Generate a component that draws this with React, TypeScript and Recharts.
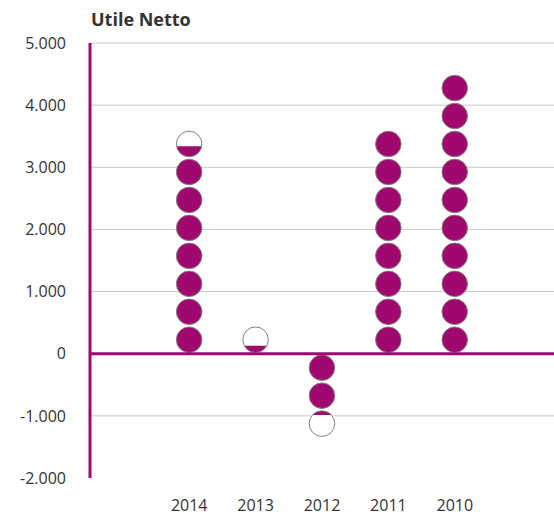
import React from "react";
import { BarChart, Bar, XAxis, YAxis, CartesianGrid, ReferenceLine } from "recharts";

const years = ["2014", "2013", "2012", "2011", "2010"];
const utile = [3335, 120, -975, 3600, 4500];
const yTicks = [-2000, -1000, 0, 1000, 2000, 3000, 4000, 5000];
const gridValues = [-1000, 1000, 2000, 3000, 4000, 5000];
const UNIT = 450; // value represented by one coin

const PURPLE = "#A0086F";
const FONT = "'Open Sans', sans-serif";

const data = years.map((year, i) => ({ year, utile: utile[i] }));

const fmt = (v: number) => {
  const s = Math.abs(v).toString().replace(/\B(?=(\d{3})+(?!\d))/g, ".");
  return (v < 0 ? "-" : "") + s;
};

// draws the bar as a stack of coins, the last one filled partially
const CoinStack = (props: any) => {
  const { x, y, width, height, index } = props;
  const v: number = props.payload?.utile ?? 0;
  if (!v || !height) return null;
  const h = Math.abs(height);
  const unitPx = (h / Math.abs(v)) * UNIT;
  const zeroY = v >= 0 ? Math.max(y, y + height) : Math.min(y, y + height);
  const dir = v >= 0 ? -1 : 1;
  const cx = x + width / 2;
  const r = unitPx / 2 - 1.2;
  const units = Math.abs(v) / UNIT;
  const count = Math.ceil(units - 1e-6);
  const coins = [];
  for (let i = 0; i < count; i++) {
    const cy = zeroY + dir * unitPx * (i + 0.5);
    const frac = Math.min(1, units - i);
    if (frac >= 0.999) {
      coins.push(<circle key={i} cx={cx} cy={cy} r={r} fill={PURPLE} stroke="#808080" strokeWidth={1} />);
    } else {
      const id = `coin-clip-${index}-${i}`;
      const fh = frac * 2 * r;
      const cy0 = v >= 0 ? cy + r - fh : cy - r;
      coins.push(
        <g key={i}>
          <defs>
            <clipPath id={id}>
              <rect x={cx - r - 1} y={cy0} width={2 * r + 2} height={fh} />
            </clipPath>
          </defs>
          <circle cx={cx} cy={cy} r={r} fill="#fff" />
          <circle cx={cx} cy={cy} r={r} fill={PURPLE} clipPath={`url(#${id})`} />
          <circle cx={cx} cy={cy} r={r} fill="none" stroke="#808080" strokeWidth={1} />
        </g>
      );
    }
  }
  return <g>{coins}</g>;
};

export default function App() {
  return (
    <div style={{ position: "absolute", left: 0, top: 0, width: 554, height: 515, background: "#fff", fontFamily: FONT }}>
      <div
        style={{
          position: "absolute",
          left: 91,
          top: 10,
          fontSize: 18,
          lineHeight: 1,
          fontWeight: 700,
          color: "#333",
          whiteSpace: "nowrap",
        }}
      >
        Utile Netto
      </div>
      <BarChart width={554} height={515} data={data} margin={{ top: 43, right: 0, bottom: 0, left: 0 }}>
        <CartesianGrid vertical={false} horizontalValues={gridValues} stroke="#c8c8c8" />
        <XAxis
          dataKey="year"
          axisLine={false}
          tickLine={false}
          tickSize={0}
          tickMargin={22}
          height={37}
          padding={{ left: 66, right: 66 }}
          tick={{ fill: "#333", fontSize: 16, fontFamily: FONT }}
        />
        <YAxis
          type="number"
          domain={[-2000, 5000]}
          ticks={yTicks}
          interval={0}
          width={90}
          tickFormatter={fmt}
          axisLine={{ stroke: PURPLE, strokeWidth: 3 }}
          tickLine={false}
          tickSize={0}
          tickMargin={24}
          tick={{ fill: "#333", fontSize: 16, fontFamily: FONT }}
        />
        <Bar dataKey="utile" shape={CoinStack} isAnimationActive={false} />
        <ReferenceLine y={0} stroke={PURPLE} strokeWidth={3} />
      </BarChart>
    </div>
  );
}
